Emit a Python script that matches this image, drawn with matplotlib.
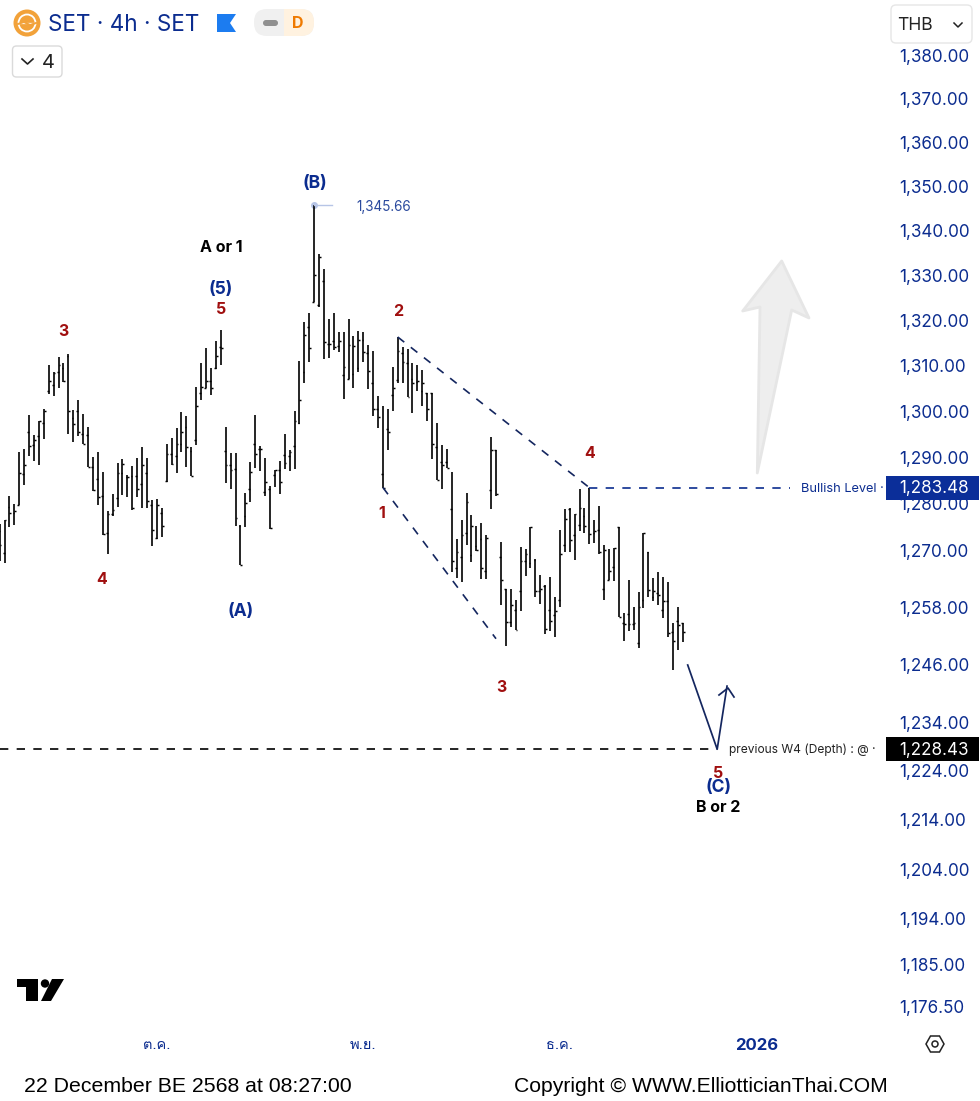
import math
import matplotlib
matplotlib.use("Agg")
import matplotlib.pyplot as plt
from matplotlib import font_manager as fm
from matplotlib.patches import Polygon, FancyBboxPatch, Circle, Rectangle
from matplotlib.ticker import FixedLocator, FixedFormatter, NullLocator

opens = [1274.1,1269.4,1279.3,1278.0,1279.8,1286.5,1295.6,1292.6,1294.7,1297.4,
1304.4,1305.7,1308.7,1309.5,1312.2,1298.6,1300.0,1295.1,1294.9,1288.0,
1285.3,1281.6,1273.7,1277.8,1281.2,1286.6,1285.7,1285.9,1285.9,1284.3,
1286.7,1279.7,1272.8,1278.0,1285.0,1290.8,1290.4,1292.8,1296.6,1291.4,
1293.7,1304.0,1305.2,1306.6,1309.5,1314.2,1291.3,1288.3,1287.4,1275.2,
1277.4,1283.2,1292.8,1291.9,1282.6,1283.3,1286.2,1287.2,1290.5,1290.4,
1292.5,1297.4,1308.7,1318.6,1324.1,1323.4,1328.8,1314.8,1315.5,1314.4,
1308.0,1307.1,1308.2,1309.5,1315.7,1312.8,1306.3,1300.5,1286.5,1296.2,
1303.5,1306.8,1312.7,1310.6,1307.0,1306.4,1304.4,1304.0,1304.0,1292.3,
1289.0,1289.0,1279.0,1266.4,1268.7,1273.7,1269.1,1271.0,1272.5,1265.7,
1283.0,1291.5,1268.7,1261.8,1255.0,1257.4,1261.5,1267.7,1267.3,1268.0,
1261.5,1262.6,1257.4,1256.3,1259.6,1271.3,1279.0,1273.3,1275.5,1277.3,
1283.48,1273.7,1274.5,1261.8,1263.8,1266.5,1275.0,1254.7,1256.5,1254.5,
1250.4,1259.5,1269.7,1260.1,1261.1,1257.4,1259.3,1252.8,1255.1,1254.7]
highs = [1275.6,1276.6,1281.6,1279.9,1291.2,1291.9,1299.2,1294.9,1297.9,1300.6,
1310.1,1308.5,1311.9,1310.6,1312.6,1300.3,1302.5,1299.4,1296.6,1290.1,
1291.1,1286.9,1278.4,1282.2,1288.8,1289.7,1286.3,1288.2,1289.9,1292.2,
1289.9,1280.8,1281.0,1279.2,1292.9,1294.2,1296.4,1299.8,1299.0,1292.3,
1305.3,1310.6,1313.9,1309.5,1315.5,1317.9,1296.6,1291.0,1291.0,1275.5,
1282.3,1289.1,1299.2,1292.5,1289.9,1283.8,1287.2,1289.3,1295.1,1291.5,
1300.0,1311.1,1319.6,1321.6,1345.66,1334.7,1331.4,1320.3,1321.7,1317.4,
1317.5,1320.2,1316.6,1317.7,1317.4,1314.6,1313.2,1303.4,1301.1,1300.6,
1309.7,1316.3,1314.0,1313.7,1310.6,1310.2,1309.1,1304.1,1304.0,1297.4,
1292.6,1291.9,1286.9,1272.5,1276.6,1282.3,1277.6,1275.3,1275.9,1273.3,
1294.5,1291.5,1271.9,1261.8,1261.8,1259.5,1270.7,1270.4,1275.1,1268.3,
1264.8,1262.7,1264.4,1260.1,1274.5,1279.0,1279.2,1277.8,1283.3,1279.2,
1283.48,1276.6,1279.6,1271.3,1270.4,1270.5,1275.0,1256.8,1263.8,1258.0,
1261.2,1273.8,1269.7,1264.3,1265.5,1264.4,1263.3,1254.6,1258.0,1254.8]
lows = [1267.8,1267.3,1275.0,1275.4,1279.8,1284.0,1290.4,1289.3,1288.3,1294.0,
1303.8,1303.4,1305.0,1306.5,1295.1,1293.3,1294.6,1292.9,1287.9,1282.8,
1279.8,1273.4,1269.2,1277.4,1279.4,1281.9,1281.4,1278.7,1281.4,1279.2,
1279.1,1271.0,1272.4,1273.0,1284.8,1288.4,1286.6,1291.2,1288.0,1285.9,
1292.6,1302.5,1305.2,1303.5,1309.3,1310.1,1284.4,1283.2,1275.2,1266.9,
1275.0,1280.3,1287.7,1287.0,1281.7,1274.7,1283.7,1282.1,1287.6,1287.1,
1287.4,1297.2,1306.1,1310.7,1324.1,1322.9,1311.4,1311.7,1313.5,1313.0,
1302.6,1307.1,1305.0,1308.5,1310.9,1304.8,1299.0,1296.4,1283.5,1291.5,
1300.0,1306.3,1306.2,1303.1,1299.6,1304.4,1301.2,1297.8,1289.7,1285.1,
1283.3,1287.7,1265.5,1264.2,1263.3,1271.2,1267.5,1269.9,1264.0,1263.9,
1279.0,1281.6,1258.4,1249.8,1253.9,1253.3,1257.3,1264.6,1266.4,1260.1,
1258.7,1252.4,1253.0,1251.8,1258.0,1269.8,1269.8,1268.1,1274.1,1273.7,
1271.5,1271.7,1269.2,1259.5,1263.7,1263.5,1255.9,1250.9,1253.1,1253.3,
1249.4,1257.9,1260.1,1259.4,1258.4,1255.8,1251.8,1244.9,1249.0,1250.8]
closes = [1271.2,1276.6,1278.0,1278.5,1286.6,1288.3,1292.5,1293.7,1297.9,1300.0,
1306.6,1308.4,1310.1,1306.6,1300.1,1297.2,1295.6,1293.0,1287.9,1282.9,
1281.4,1273.6,1277.8,1278.7,1286.7,1288.6,1285.8,1279.1,1283.1,1288.4,
1280.6,1274.5,1279.7,1275.3,1290.8,1288.5,1292.8,1295.5,1292.3,1285.9,
1301.2,1305.3,1306.6,1305.0,1312.2,1313.9,1288.3,1287.2,1277.0,1266.9,
1280.1,1286.9,1290.8,1291.9,1284.6,1274.8,1287.2,1284.8,1288.8,1291.2,
1297.9,1302.5,1316.8,1313.9,1330.1,1334.0,1315.3,1314.8,1314.2,1315.5,
1309.8,1314.6,1314.4,1315.7,1313.1,1308.9,1300.5,1298.8,1283.5,1295.6,
1305.2,1313.3,1310.7,1303.1,1306.3,1306.6,1306.3,1300.5,1292.9,1285.1,
1288.3,1287.7,1267.8,1269.8,1273.4,1280.3,1275.2,1270.2,1266.4,1272.6,
1291.7,1282.1,1263.7,1255.0,1258.5,1253.3,1267.7,1269.2,1275.0,1261.5,
1261.8,1253.5,1255.2,1257.3,1269.2,1276.8,1272.2,1277.8,1279.2,1275.3,
1273.5,1274.1,1269.8,1270.2,1265.7,1270.5,1255.9,1254.5,1254.4,1254.8,
1258.1,1273.7,1261.7,1261.5,1260.6,1259.4,1252.6,1250.9,1254.2,1252.8]

price_ticks = [1380,1370,1360,1350,1340,1330,1320,1310,1300,1290,1280,1270,
               1258,1246,1234,1224,1214,1204,1194,1185,1176.5]
time_labels = ["ต.ค.", "พ.ย.", "ธ.ค.", "2026"]
time_label_bars = [32, 74, 114, 154]
peak_price = 1345.66
bullish_level = 1283.48
depth_level = 1228.43
upper_trend_bars, upper_trend_prices = [81, 120], [1316.3, 1283.48]
lower_trend_bars, lower_trend_prices = [78, 101], [1283.5, 1251.4]
projection_bars, projection_prices = [140, 146, 148], [1245.9, 1228.43, 1241.5]

W, H = 980, 1101
NAVY = "#0B2C8F"
RED = "#A00F0F"
BLACK = "#000000"
UI = "Inter"

plt.rcParams["font.family"] = [UI, "DejaVu Sans"]


def thai_family():
    for f in fm.fontManager.ttflist:
        try:
            if 0x0E15 in fm.get_font(f.fname).get_charmap():
                return f.name
        except Exception:
            pass
    return None


thai = thai_family()
tick_fams = ([thai] if thai else []) + [UI, "DejaVu Sans"]

fig = plt.figure(figsize=(W / 100, H / 100), dpi=100, facecolor="white")

AX_R, AX_B = 890, 1030
ax = fig.add_axes([0, 1 - AX_B / H, AX_R / W, AX_B / H])
ax.set_yscale("log")
k = math.log(1380 / 1176.5) / (1007 - 55)   # log-price per pixel
ax.set_ylim(1380 * math.exp(-(AX_B - 55) * k), 1380 * math.exp(55 * k))
step, off = 4.915, -0.4
ax.set_xlim(-off / step, (AX_R - off) / step)
for s in ax.spines.values():
    s.set_visible(False)

bars = list(range(len(opens)))
tick_w = 0.36
ax.vlines(bars, lows, highs, color="black", lw=1.2)
ax.hlines(opens, [b - tick_w for b in bars], bars, color="black", lw=1.05)
ax.hlines(closes, bars, [b + tick_w for b in bars], color="black", lw=1.05)

ax.yaxis.tick_right()
ax.yaxis.set_major_locator(FixedLocator(price_ticks))
ax.yaxis.set_major_formatter(FixedFormatter([f"{v:,.2f}" for v in price_ticks]))
ax.yaxis.set_minor_locator(NullLocator())
ax.tick_params(axis="y", length=0, pad=6.3, labelsize=12.3, labelcolor=NAVY)
ax.xaxis.set_major_locator(FixedLocator(time_label_bars))
ax.xaxis.set_major_formatter(FixedFormatter(time_labels))
ax.tick_params(axis="x", length=0, pad=5.5, labelsize=10.5, labelcolor=NAVY)
for lab, txt in zip(ax.get_xticklabels(), time_labels):
    if txt == "2026":
        lab.set_fontweight("bold")
        lab.set_fontsize(12)
    else:
        lab.set_family(tick_fams)

dash = (0, (5, 5))
ax.plot(upper_trend_bars, upper_trend_prices, color="#14265F", lw=1.2, ls=dash)
ax.plot(lower_trend_bars, lower_trend_prices, color="#14265F", lw=1.2, ls=dash)
ax.plot([120, (790 - off) / step], [bullish_level] * 2, color=NAVY, lw=1.2, ls=dash)
ax.plot([0, 146], [depth_level] * 2, color="black", lw=1.2, ls=dash)
ax.plot(projection_bars, projection_prices, color="#14265F", lw=1.25)
ax.plot([64, (332 - off) / step], [peak_price] * 2, color="#B7C5E6", lw=1.0)
ax.plot([64], [peak_price], "o", ms=4, color="#B7C5E6", zorder=1)

# page-pixel overlay for annotations and the TradingView chrome
ov = fig.add_axes([0, 0, 1, 1], zorder=5)
ov.set_xlim(0, W)
ov.set_ylim(H, 0)
ov.axis("off")
ov.patch.set_alpha(0)


def t(x, y, s, color=BLACK, size=14, weight="normal", ha="center", va="center", family=None):
    ov.text(x, y, s, color=color, fontsize=size * 0.72, fontweight=weight, ha=ha, va=va,
            family=family or [UI, "DejaVu Sans"], zorder=10)


def round_box(x0, y0, x1, y1, r, fc, ec="none", lw=0, z=3):
    ov.add_patch(FancyBboxPatch((x0, y0), x1 - x0, y1 - y0,
                                boxstyle=f"round,pad=0,rounding_size={r}",
                                fc=fc, ec=ec, lw=lw, zorder=z))


wave = [
    (314.5, 184, "(B)", NAVY, 17.5), (221, 289, "(5)", NAVY, 17.5), (240.5, 612, "(A)", NAVY, 17.5),
    (718, 788, "(C)", NAVY, 17.5), (221, 248, "A or 1", BLACK, 16), (718, 808, "B or 2", BLACK, 16),
    (63, 331, "3", RED, 16), (221, 309, "5", RED, 16), (102, 579, "4", RED, 16),
    (398, 312, "2", RED, 16), (382, 513, "1", RED, 16), (501, 688, "3", RED, 16),
    (590, 453, "4", RED, 16), (718, 773, "5", RED, 16),
]
for x, y, s, c, sz in wave:
    t(x, y, s, c, sz, "bold")

t(384, 207, "1,345.66", "#2B4A9E", 13.5)
t(801, 489, "Bullish Level ·", NAVY, 12.8, ha="left")
t(729, 750, "previous W4 (Depth) : @ ·", "#222222", 12, ha="left")

# projection arrow head
ov.plot([719, 728, 734], [695, 688, 697], color="#14265F", lw=1.25, zorder=4)

# gray up arrow
ov.add_patch(Polygon([(781.7, 261), (809, 318), (791.7, 310), (757.3, 473), (760, 307), (742.7, 311)],
                     closed=True, fc="#EEEEEE", ec="#E6E6E6", lw=2.0, joinstyle="round", zorder=2))

# price tags
ov.add_patch(Rectangle((886, 476), 93, 24, fc="#0B2E99", ec="none", zorder=8))
t(899, 489, "1,283.48", "white", 17, ha="left")
ov.add_patch(Rectangle((886, 737), 93, 24, fc="black", ec="none", zorder=8))
t(899, 750, "1,228.43", "white", 17, ha="left")

# header
ov.add_patch(Circle((27, 23), 13.5, fc="#F2A23A", ec="none", zorder=3))
ov.add_patch(Circle((27, 23), 8.5, fc="none", ec="white", lw=1.3, zorder=4))
ov.plot([18, 24, 30, 36], [24, 22, 25, 23], color="#F2A23A", lw=1.4, zorder=5)
ov.plot([19, 35], [23, 23], color="white", lw=0.9, zorder=4)
t(48, 25, "SET · 4h · SET", NAVY, 22.5, ha="left")
ov.add_patch(Polygon([(217, 14), (236, 14), (230, 23), (236, 32), (217, 32)], closed=True,
                     fc="#1C7CF0", ec="none", zorder=3))
round_box(254, 9, 314, 36, 13, "#F0F0F0")
clip = Rectangle((284, 0), 40, 60, transform=ov.transData)
p = FancyBboxPatch((254, 9), 60, 27, boxstyle="round,pad=0,rounding_size=13", fc="#FFF2E0", ec="none", zorder=4)
ov.add_patch(p)
p.set_clip_path(clip)
round_box(263, 20, 278, 26, 3, "#909090", z=5)
t(298, 24, "D", "#EF7A00", 16, "bold")
round_box(12.5, 46, 62, 77, 4, "white", "#DADADA", 1.0)
ov.plot([22, 27.5, 33], [59, 64, 59], color="#222222", lw=1.2, zorder=5)
t(48, 63, "4", "#222222", 20)
round_box(891, 5, 972, 43, 5, "white", "#E6E6E6", 1.0, z=6)
t(897, 26, "THB", "#222222", 17.5, ha="left")
ov.plot([954, 958, 962], [23, 27, 23], color="#222222", lw=1.1, zorder=7)

# TradingView logo
ov.add_patch(Polygon([(17, 979), (38, 979), (38, 1001), (26, 1001), (26, 987), (17, 987)],
                     closed=True, fc="black", ec="none", zorder=3))
ov.add_patch(Circle((45, 983.5), 4.2, fc="black", ec="none", zorder=3))
ov.add_patch(Polygon([(52, 979), (64, 979), (51, 1001), (41, 1001)], closed=True, fc="black", ec="none", zorder=3))

# settings icon
ov.add_patch(Polygon([(926, 1044), (930.5, 1036), (939.5, 1036), (944, 1044), (939.5, 1052), (930.5, 1052)],
                     closed=True, fc="white", ec="#222222", lw=1.1, zorder=3))
ov.add_patch(Circle((935, 1044), 3, fc="white", ec="#222222", lw=1.1, zorder=4))

t(24, 1086, "22 December BE 2568 at 08:27:00", BLACK, 21.3, ha="left", family=["Liberation Sans"])
t(514, 1086, "Copyright © WWW.ElliotticianThai.COM", BLACK, 21.2, ha="left", family=["Liberation Sans"])

fig.savefig("out.png", dpi=100, facecolor="white")
